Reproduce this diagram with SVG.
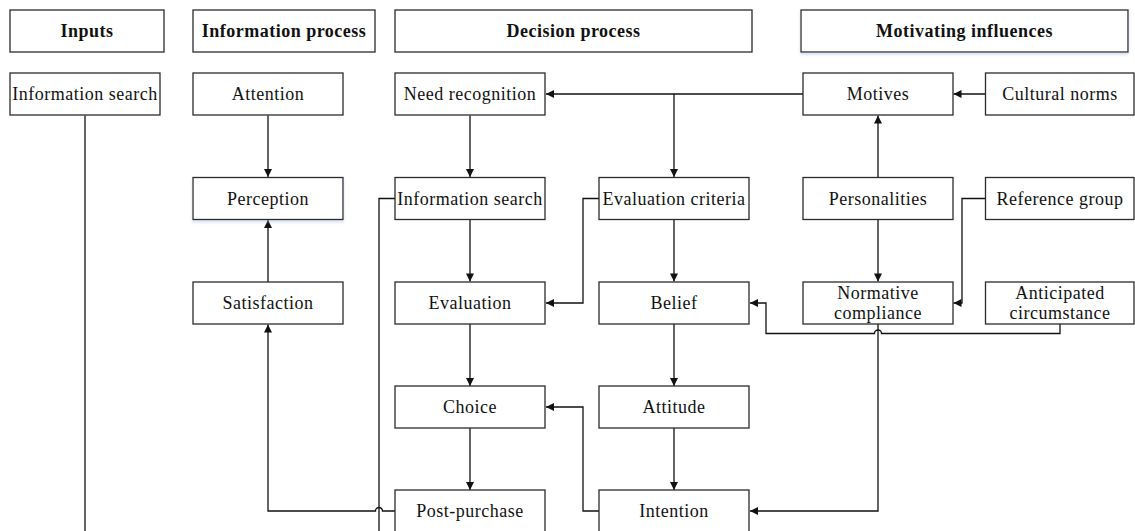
<svg xmlns="http://www.w3.org/2000/svg" width="1135" height="531" viewBox="0 0 1135 531">
  <style>
    .box { fill: #ffffff; stroke: #2b2b2b; stroke-width: 1.3; }
    .lbl { font-family: "Liberation Serif", "Times New Roman", serif; font-size: 18px; letter-spacing: 0.5px; fill: #111; text-anchor: middle; }
    .hdr { font-weight: bold; }
    .wire { fill: none; stroke: #111; stroke-width: 1.3; }
    .arr { marker-end: url(#tip); }
  </style>
  <defs>
    <marker id="tip" viewBox="0 0 10 10" refX="10" refY="5" markerWidth="9" markerHeight="8" markerUnits="userSpaceOnUse" orient="auto">
      <path d="M0,0 L10,5 L0,10 z" fill="#111"/>
    </marker>
    <filter id="glow" x="-10%" y="-20%" width="120%" height="150%">
      <feDropShadow dx="0" dy="2" stdDeviation="1.5" flood-color="#9fb3d6" flood-opacity="0.45"/>
    </filter>
  </defs>
  <rect width="1135" height="531" fill="#ffffff"/>

  <!-- column headers -->
  <g id="hdr-inputs"><rect class="box" x="10" y="10" width="154" height="42"/><text class="lbl hdr" x="87" y="37">Inputs</text></g>
  <g id="hdr-info"><rect class="box" x="193" y="10" width="182" height="42"/><text class="lbl hdr" x="284" y="37">Information process</text></g>
  <g id="hdr-decision"><rect class="box" x="395" y="10" width="357" height="42"/><text class="lbl hdr" x="573.5" y="37">Decision process</text></g>
  <g id="hdr-motivating"><rect class="box" x="801" y="10" width="327" height="42" filter="url(#glow)"/><text class="lbl hdr" x="964.5" y="37">Motivating influences</text></g>

  <!-- connectors -->
  <g id="connectors">
    <path class="wire arr" d="M803,94 H546"/>
    <path class="wire arr" d="M674,94 V177"/>
    <path class="wire arr" d="M985.5,94 H953.5"/>
    <path class="wire arr" d="M878,177.5 V115.5"/>
    <path class="wire arr" d="M878,219.5 V281.5"/>
    <path class="wire arr" d="M985.5,198.5 H962 V303 H953.5"/>
    <path class="wire arr" d="M1060,324 V333.5 H881.5 a3.5,3.5 0 0 0 -7,0 H766 V303 H750"/>
    <path class="wire arr" d="M878,324 V511 H750"/>
    <path class="wire arr" d="M470,115.5 V177"/>
    <path class="wire arr" d="M470,219.5 V281.5"/>
    <path class="wire arr" d="M470,324 V386"/>
    <path class="wire arr" d="M470,428 V490"/>
    <path class="wire arr" d="M599,198.5 H583 V303 H546"/>
    <path class="wire arr" d="M674,219.5 V281.5"/>
    <path class="wire arr" d="M674,324 V386"/>
    <path class="wire arr" d="M674,428 V490"/>
    <path class="wire arr" d="M599,511 H583 V407 H546"/>
    <path class="wire arr" d="M268,115.5 V177"/>
    <path class="wire arr" d="M268,282 V220"/>
    <path class="wire arr" d="M395,511 H382.5 a3.5,3.5 0 0 0 -7,0 H268 V324.5"/>
    <path class="wire" d="M395,198.5 H379 V531"/>
    <path class="wire" d="M85,115.5 V531"/>
  </g>

  <!-- Inputs -->
  <g id="n-input-search"><rect class="box" x="10" y="73" width="150" height="42"/><text class="lbl" x="85" y="100">Information search</text></g>

  <!-- Information process -->
  <g id="n-attention"><rect class="box" x="193" y="73" width="150" height="42"/><text class="lbl" x="268" y="100">Attention</text></g>
  <g id="n-perception"><rect class="box" x="193" y="177.5" width="150" height="42" filter="url(#glow)"/><text class="lbl" x="268" y="204.5">Perception</text></g>
  <g id="n-satisfaction"><rect class="box" x="193" y="282" width="150" height="42"/><text class="lbl" x="268" y="309">Satisfaction</text></g>

  <!-- Decision process -->
  <g id="n-need"><rect class="box" x="395" y="73" width="150" height="42"/><text class="lbl" x="470" y="100">Need recognition</text></g>
  <g id="n-search"><rect class="box" x="395" y="177.5" width="150" height="42"/><text class="lbl" x="470" y="204.5">Information search</text></g>
  <g id="n-evaluation"><rect class="box" x="395" y="282" width="150" height="42"/><text class="lbl" x="470" y="309">Evaluation</text></g>
  <g id="n-choice"><rect class="box" x="395" y="386" width="150" height="42"/><text class="lbl" x="470" y="413">Choice</text></g>
  <g id="n-postpurchase"><rect class="box" x="395" y="490" width="150" height="42"/><text class="lbl" x="470" y="517">Post-purchase</text></g>

  <g id="n-criteria"><rect class="box" x="599" y="177.5" width="150" height="42"/><text class="lbl" x="674" y="204.5">Evaluation criteria</text></g>
  <g id="n-belief"><rect class="box" x="599" y="282" width="150" height="42"/><text class="lbl" x="674" y="309">Belief</text></g>
  <g id="n-attitude"><rect class="box" x="599" y="386" width="150" height="42"/><text class="lbl" x="674" y="413">Attitude</text></g>
  <g id="n-intention"><rect class="box" x="599" y="490" width="150" height="42"/><text class="lbl" x="674" y="517">Intention</text></g>

  <!-- Motivating influences -->
  <g id="n-motives"><rect class="box" x="803" y="73" width="150" height="42"/><text class="lbl" x="878" y="100">Motives</text></g>
  <g id="n-cultural"><rect class="box" x="985.5" y="73" width="148.5" height="42"/><text class="lbl" x="1060" y="100">Cultural norms</text></g>
  <g id="n-personalities"><rect class="box" x="803" y="177.5" width="150" height="42"/><text class="lbl" x="878" y="204.5">Personalities</text></g>
  <g id="n-reference"><rect class="box" x="985.5" y="177.5" width="148.5" height="42"/><text class="lbl" x="1060" y="204.5">Reference group</text></g>
  <g id="n-normative"><rect class="box" x="803" y="282" width="150" height="42"/><text class="lbl" x="878" y="298.5">Normative</text><text class="lbl" x="878" y="318.5">compliance</text></g>
  <g id="n-anticipated"><rect class="box" x="985.5" y="282" width="148.5" height="42"/><text class="lbl" x="1060" y="298.5">Anticipated</text><text class="lbl" x="1060" y="318.5">circumstance</text></g>
</svg>
